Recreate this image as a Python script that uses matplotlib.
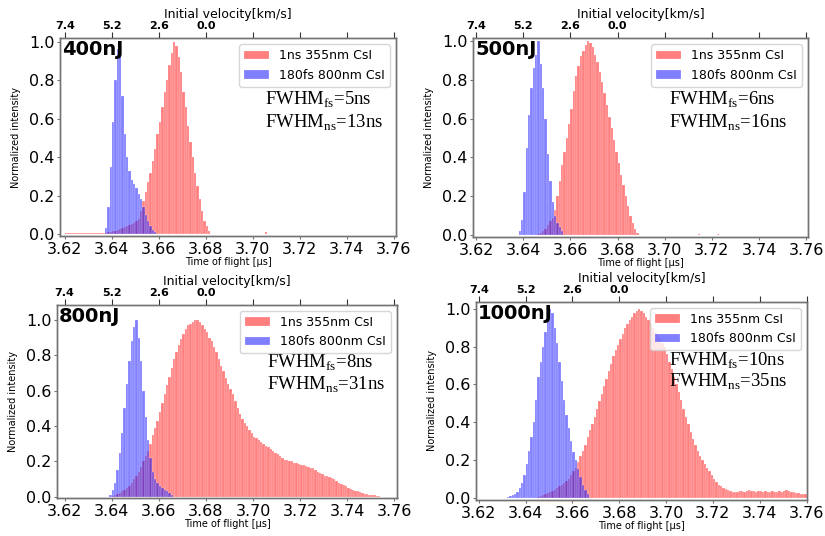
import numpy as np
import matplotlib.pyplot as plt

plt.rcParams['mathtext.fontset'] = 'custom'
plt.rcParams['mathtext.rm'] = 'Liberation Serif'

BIN = 0.001  # 1 ns histogram bins (time in us)

pulse_energies = ['400nJ', '500nJ', '800nJ', '1000nJ']
fwhm_fs = [5, 6, 8, 10]
fwhm_ns = [13, 16, 31, 35]
tof_ticks = [3.62, 3.64, 3.66, 3.68, 3.70, 3.72, 3.74, 3.76]
velocity_labels = ['7.4', '5.2', '2.6', '0.0', '', '', '', '']

# 400nJ
blue_400_start = 3.637
blue_400 = [0.03, 0.14, 0.35, 0.58, 0.80, 0.96, 1.00, 0.72, 0.52, 0.40, 0.33,
            0.28, 0.26, 0.24, 0.21, 0.18, 0.14, 0.10, 0.07, 0.04, 0.02, 0.01]
red_400_start = 3.620
red_400 = [0.004, 0.005, 0.004, 0.006, 0.005, 0.004, 0.006, 0.005, 0.004, 0.005,
           0.006, 0.004, 0.005, 0.004, 0.006, 0.005, 0.006,
           0.007, 0.01, 0.012, 0.015, 0.018, 0.02, 0.025, 0.03, 0.035, 0.04,
           0.045, 0.05, 0.06, 0.07, 0.08, 0.12, 0.17, 0.22, 0.27, 0.32, 0.38,
           0.44, 0.52, 0.58, 0.66, 0.74, 0.8, 0.88, 0.94, 1.0, 0.98, 0.92, 0.84,
           0.74, 0.66, 0.56, 0.48, 0.4, 0.32, 0.25, 0.18, 0.12, 0.07, 0.04, 0.015]
red_400_stray_t = [3.705]
red_400_stray = [0.012]

# 500nJ
blue_500_start = 3.638
blue_500 = [0.02, 0.08, 0.22, 0.45, 0.62, 0.76, 0.86, 0.93, 1.0, 0.88, 0.76,
            0.6, 0.42, 0.28, 0.17, 0.1, 0.06, 0.04, 0.02]
red_500_start = 3.646
red_500 = [0.005, 0.01, 0.02, 0.03, 0.05, 0.07, 0.09, 0.13, 0.2, 0.28, 0.36,
           0.43, 0.5, 0.57, 0.65, 0.74, 0.82, 0.87, 0.92, 0.95, 0.98, 1.0, 0.99,
           0.97, 0.93, 0.89, 0.84, 0.79, 0.73, 0.67, 0.61, 0.55, 0.49, 0.43,
           0.37, 0.31, 0.26, 0.2, 0.15, 0.1, 0.06, 0.03, 0.01]
red_500_stray_t = [3.714, 3.722]
red_500_stray = [0.005, 0.004]

# 800nJ
blue_800_start = 3.639
blue_800 = [0.01, 0.04, 0.08, 0.15, 0.25, 0.36, 0.5, 0.64, 0.77, 0.88, 0.96,
            1.0, 0.9, 0.77, 0.6, 0.45, 0.32, 0.22, 0.14, 0.1, 0.08, 0.06, 0.05,
            0.04, 0.03, 0.02, 0.01]
red_800_start = 3.640
red_800 = [0.005, 0.01, 0.015, 0.02, 0.03, 0.04, 0.05, 0.06, 0.08, 0.1, 0.12,
           0.14, 0.17, 0.2, 0.23, 0.26, 0.3, 0.35, 0.39, 0.43, 0.48, 0.53, 0.58,
           0.63, 0.68, 0.73, 0.78, 0.82, 0.86, 0.89, 0.92, 0.95, 0.97, 0.98,
           0.99, 1.0, 1.0, 0.99, 0.97, 0.95, 0.93, 0.9, 0.88, 0.85, 0.82, 0.78,
           0.74, 0.71, 0.67, 0.64, 0.61, 0.58, 0.54, 0.5, 0.47, 0.44, 0.42, 0.4,
           0.38, 0.36, 0.34, 0.33, 0.32, 0.31, 0.3, 0.29, 0.28, 0.27, 0.26,
           0.25, 0.24, 0.23, 0.22, 0.21, 0.21, 0.2, 0.2, 0.19, 0.19, 0.185,
           0.18, 0.18, 0.175, 0.17, 0.165, 0.16, 0.15, 0.14, 0.135, 0.13, 0.12,
           0.115, 0.11, 0.105, 0.1, 0.09, 0.08, 0.07, 0.065, 0.06, 0.05, 0.045,
           0.04, 0.035, 0.03, 0.025, 0.02, 0.018, 0.015, 0.012, 0.01, 0.008,
           0.005, 0.003]
red_800_stray_t = []
red_800_stray = []

# 1000nJ
blue_1000_start = 3.632
blue_1000 = [0.005, 0.008, 0.012, 0.02, 0.03, 0.05, 0.08, 0.12, 0.18, 0.25,
             0.32, 0.4, 0.52, 0.64, 0.72, 0.8, 0.88, 0.96, 1.0, 0.98, 0.9, 0.82,
             0.72, 0.62, 0.52, 0.44, 0.37, 0.3, 0.24, 0.2, 0.15, 0.11, 0.07,
             0.04, 0.02]
red_1000_start = 3.645
red_1000 = [0.005, 0.01, 0.015, 0.02, 0.025, 0.03, 0.035, 0.04, 0.05, 0.06,
            0.07, 0.08, 0.09, 0.1, 0.12, 0.14, 0.16, 0.19, 0.22, 0.25, 0.28,
            0.32, 0.36, 0.39, 0.43, 0.47, 0.51, 0.55, 0.59, 0.63, 0.67, 0.71,
            0.75, 0.78, 0.81, 0.84, 0.87, 0.9, 0.92, 0.94, 0.96, 0.98, 0.99,
            1.0, 0.99, 0.98, 0.96, 0.94, 0.92, 0.9, 0.88, 0.86, 0.84, 0.82, 0.8,
            0.76, 0.72, 0.68, 0.64, 0.6, 0.56, 0.52, 0.47, 0.43, 0.39, 0.35,
            0.31, 0.28, 0.25, 0.22, 0.2, 0.18, 0.16, 0.14, 0.12, 0.1, 0.085,
            0.07, 0.06, 0.05, 0.045, 0.04, 0.035, 0.032, 0.03, 0.03, 0.035,
            0.035, 0.03, 0.035, 0.04, 0.035, 0.035, 0.03, 0.035, 0.035, 0.03,
            0.035, 0.03, 0.03, 0.035, 0.03, 0.03, 0.035, 0.03, 0.035, 0.04,
            0.035, 0.03, 0.03, 0.025, 0.025, 0.02, 0.02, 0.02, 0.02]
red_1000_stray_t = []
red_1000_stray = []

panels = [
    (blue_400_start, blue_400, red_400_start, red_400, red_400_stray_t, red_400_stray),
    (blue_500_start, blue_500, red_500_start, red_500, red_500_stray_t, red_500_stray),
    (blue_800_start, blue_800, red_800_start, red_800, red_800_stray_t, red_800_stray),
    (blue_1000_start, blue_1000, red_1000_start, red_1000, red_1000_stray_t, red_1000_stray),
]

# layout of the four pasted panels (figure fractions)
boxes = [[0.0727, 0.5597, 0.4073, 0.3694],
         [0.5733, 0.5578, 0.4061, 0.3713],
         [0.0691, 0.0709, 0.4121, 0.3601],
         [0.5770, 0.0672, 0.4012, 0.3694]]
xlims = [(3.6179, 3.7610), (3.6187, 3.7607), (3.6168, 3.7611), (3.6188, 3.7602)]
ylims = [(-0.010, 1.019), (-0.010, 1.015), (-0.007, 1.085), (-0.012, 1.037)]
fwhm_pos = [(0.61, 0.687, 0.571), (0.585, 0.69, 0.573),
            (0.618, 0.70, 0.585), (0.583, 0.704, 0.597)]

fig = plt.figure(figsize=(8.25, 5.36), dpi=100)
spine_col = '0.45'

for i, (b0, b, r0, r, st, sv) in enumerate(panels):
    ax = fig.add_axes(boxes[i])
    red_x = r0 + BIN * np.arange(len(r))
    blue_x = b0 + BIN * np.arange(len(b))
    ax.bar(np.concatenate([red_x, st]), np.concatenate([r, sv]), width=BIN,
           align='edge', color='red', alpha=0.5, edgecolor='white',
           linewidth=0.3, label='1ns 355nm CsI')
    ax.bar(blue_x, b, width=BIN, align='edge', color='blue', alpha=0.5,
           edgecolor='white', linewidth=0.3, label='180fs 800nm CsI')
    ax.set_xlim(xlims[i])
    ax.set_ylim(ylims[i])
    ax.set_xticks(tof_ticks)
    ax.set_yticks([0.0, 0.2, 0.4, 0.6, 0.8, 1.0])
    ax.tick_params(labelsize=11.5, length=2.5, pad=1.5, color=spine_col)
    ax.set_xlabel('Time of flight [µs]', fontsize=7, labelpad=0.5)
    ax.set_ylabel('Normalized intensity', fontsize=7, labelpad=6)
    ax.legend(loc='upper right', fontsize=9)
    ax.text(0.006, 0.99, pulse_energies[i], transform=ax.transAxes,
            fontsize=14, fontweight='bold', va='top', ha='left')
    fx, fy1, fy2 = fwhm_pos[i]
    ax.text(fx, fy1, r'FWHM$_{\mathrm{fs}}$=%dns' % fwhm_fs[i], transform=ax.transAxes,
            fontsize=13.5, family='Liberation Serif', va='center', ha='left')
    ax.text(fx, fy2, r'FWHM$_{\mathrm{ns}}$=%dns' % fwhm_ns[i], transform=ax.transAxes,
            fontsize=13.5, family='Liberation Serif', va='center', ha='left')

    ax2 = ax.twiny()
    ax2.set_xlim(xlims[i])
    ax2.set_xticks(tof_ticks)
    ax2.set_xticklabels(velocity_labels, fontsize=8, fontweight='bold')
    ax2.tick_params(length=4, pad=1, color='0.2')
    ax2.set_xlabel('Initial velocity[km/s]', fontsize=9, labelpad=2)
    for a in (ax, ax2):
        for s in a.spines.values():
            s.set_color(spine_col)
            s.set_linewidth(1.0)

fig.savefig('out.png', dpi=100)
